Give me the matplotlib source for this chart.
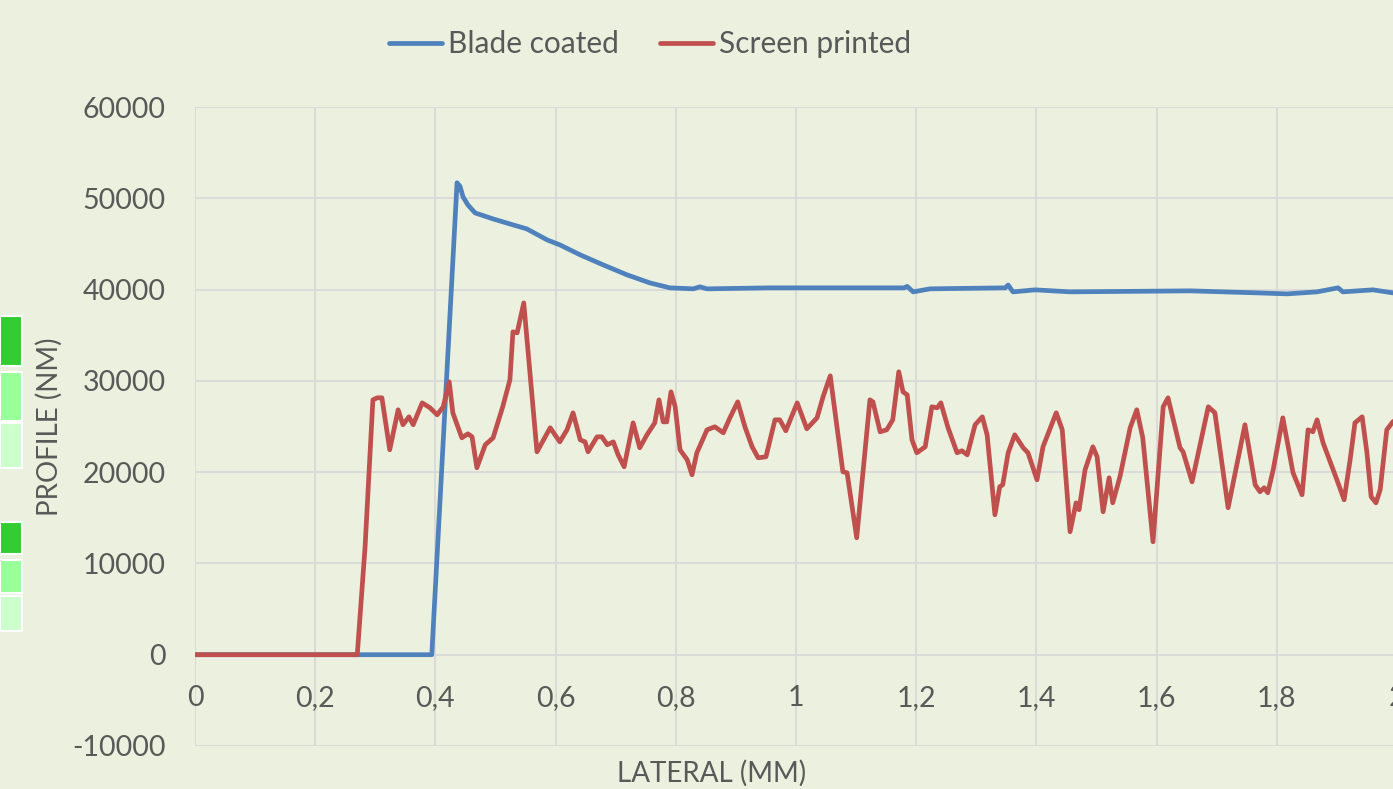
import matplotlib
matplotlib.use("Agg")
import matplotlib.pyplot as plt
from matplotlib.patches import Rectangle
from matplotlib.ticker import FuncFormatter, MultipleLocator

# profile traces (lateral in mm, profile in nm)
blade_x = [0.0, 0.394, 0.436, 0.441, 0.446, 0.454, 0.466, 0.496, 0.529, 0.552, 0.586,
           0.607, 0.641, 0.679, 0.719, 0.757, 0.790, 0.829, 0.840, 0.852, 0.957, 1.101,
           1.180, 1.185, 1.195, 1.223, 1.348, 1.353, 1.361, 1.398, 1.456, 1.656, 1.767,
           1.817, 1.867, 1.902, 1.910, 1.960, 1.993, 2.05]
blade_y = [0, 0, 51700, 51300, 50150, 49280, 48400, 47740, 47090, 46650, 45440,
           44900, 43800, 42710, 41610, 40730, 40190, 40080, 40300, 40080, 40190, 40190,
           40190, 40350, 39750, 40080, 40190, 40500, 39750, 39970, 39750, 39860, 39640,
           39530, 39750, 40190, 39750, 39970, 39640, 39700]

screen_x = [0.0, 0.270, 0.283, 0.296, 0.303, 0.311, 0.324, 0.338, 0.346, 0.356, 0.363,
            0.378, 0.391, 0.403, 0.413, 0.423, 0.429, 0.444, 0.454, 0.461, 0.469, 0.483,
            0.496, 0.512, 0.524, 0.529, 0.536, 0.547, 0.569, 0.591, 0.607, 0.619, 0.629,
            0.641, 0.649, 0.654, 0.669, 0.677, 0.686, 0.696, 0.704, 0.714, 0.729, 0.740,
            0.752, 0.765, 0.772, 0.779, 0.785, 0.792, 0.799, 0.807, 0.819, 0.827, 0.835,
            0.852, 0.865, 0.879, 0.890, 0.903, 0.915, 0.927, 0.937, 0.950, 0.965, 0.973,
            0.983, 1.002, 1.018, 1.035, 1.045, 1.057, 1.078, 1.085, 1.101, 1.123, 1.128,
            1.140, 1.151, 1.161, 1.171, 1.178, 1.185, 1.193, 1.201, 1.215, 1.226, 1.235,
            1.241, 1.253, 1.268, 1.276, 1.285, 1.298, 1.310, 1.318, 1.331, 1.339, 1.344,
            1.353, 1.364, 1.378, 1.386, 1.401, 1.411, 1.433, 1.443, 1.456, 1.466, 1.471,
            1.481, 1.494, 1.501, 1.511, 1.521, 1.527, 1.539, 1.556, 1.567, 1.577, 1.594,
            1.611, 1.619, 1.639, 1.644, 1.659, 1.686, 1.697, 1.719, 1.747, 1.764, 1.772,
            1.779, 1.785, 1.794, 1.810, 1.827, 1.842, 1.852, 1.860, 1.867, 1.877, 1.892,
            1.900, 1.912, 1.922, 1.930, 1.942, 1.950, 1.957, 1.965, 1.972, 1.983, 1.993,
            2.005]
screen_y = [0, 0, 11830, 27920, 28140, 28140, 22450, 26830, 25190, 26060, 25190,
            27590, 27050, 26280, 27160, 29890, 26500, 23760, 24200, 23870, 20480, 23000,
            23760, 27160, 30110, 35370, 35260, 38540, 22230, 24860, 23320, 24640, 26500,
            23540, 23320, 22230, 23870, 23870, 23000, 23320, 21900, 20590, 25400, 22670,
            24090, 25400, 27920, 25510, 25510, 28800, 27160, 22450, 21350, 19710, 22120,
            24640, 24970, 24310, 25950, 27700, 24970, 22780, 21570, 21680, 25730, 25730,
            24530, 27590, 24750, 25950, 28250, 30550, 20040, 19930, 12810, 27920, 27700,
            24420, 24640, 25730, 30990, 28800, 28470, 23540, 22120, 22780, 27160, 27050,
            27590, 24860, 22120, 22340, 21900, 25190, 26060, 24090, 15330, 18400, 18620,
            22120, 24090, 22670, 22120, 19160, 22780, 26500, 24640, 13470, 16640, 15880,
            20260, 22780, 21680, 15660, 19380, 16640, 19490, 24860, 26830, 23760, 12370,
            27160, 28140, 22670, 22230, 18940, 27160, 26500, 16100, 25190, 18620, 17850,
            18290, 17740, 20260, 25950, 19930, 17520, 24640, 24420, 25730, 23210, 20590,
            19160, 16970, 21350, 25400, 26060, 22120, 17300, 16640, 18070, 24640, 25510,
            26000]

series_names = ["Blade coated", "Screen printed"]
y_ticks = list(range(-10000, 60001, 10000))

BG = "#EBF1DE"
TXT = "#595959"
GRID = "#D9D9D9"
W, H = 1393, 789

plt.rcParams["font.family"] = ["Lato", "DejaVu Sans"]
plt.rcParams["axes.unicode_minus"] = False

fig = plt.figure(figsize=(W / 100, H / 100), dpi=100, facecolor=BG)
# axes spans past the right edge of the picture (chart is cropped there)
ax = fig.add_axes([195 / W, 43 / H, 601 * 2.2 / W, 639 / H])
ax.set_facecolor(BG)

ax.plot(blade_x, blade_y, color="#4F81BD", lw=3.4, label=series_names[0],
        solid_capstyle="round", solid_joinstyle="round", zorder=3)
ax.plot(screen_x, screen_y, color="#C0504D", lw=3.4, label=series_names[1],
        solid_capstyle="round", solid_joinstyle="round", zorder=3)

ax.set_xlim(0, 2.2)
ax.set_ylim(-10000, 60000)
ax.set_yticks(y_ticks)
ax.xaxis.set_major_locator(MultipleLocator(0.2))
ax.xaxis.set_major_formatter(FuncFormatter(lambda v, p: f"{round(v, 1):g}".replace(".", ",")))
ax.grid(True, color=GRID, lw=1.3, zorder=0)
ax.set_axisbelow(True)

for side in ("top", "right", "left", "bottom"):
    ax.spines[side].set_color("none")
ax.spines["bottom"].set_position(("data", 0))
ax.tick_params(axis="both", length=0, colors=TXT, labelsize=20.5)
ax.tick_params(axis="x", pad=22)
ax.tick_params(axis="y", pad=21)

ax.set_ylabel("PROFILE (NM)", color=TXT, fontsize=20, labelpad=7)
fig.text(712 / W, 1 - 773 / H, "LATERAL (MM)", color=TXT, fontsize=20,
         ha="center", va="center")

leg = fig.legend(loc="center", bbox_to_anchor=(650 / W, 1 - 44 / H), ncol=2,
                 frameon=False, fontsize=21.5, handlelength=1.8, handletextpad=0.2,
                 columnspacing=1.35)
for t in leg.get_texts():
    t.set_color(TXT)

# spreadsheet cells peeking in at the left edge
cells = [(316, 366, "#33CC33"), (372, 421, "#99FF99"), (423, 468, "#CCFFCC"),
         (522, 554, "#33CC33"), (560, 593, "#99FF99"), (596, 631, "#CCFFCC")]
for top, bot, col in cells:
    fig.add_artist(Rectangle((0, 1 - bot / H), 22 / W, (bot - top) / H,
                             transform=fig.transFigure, facecolor=col,
                             edgecolor="white", lw=1.5))

fig.savefig("out.png", dpi=100, facecolor=BG)
